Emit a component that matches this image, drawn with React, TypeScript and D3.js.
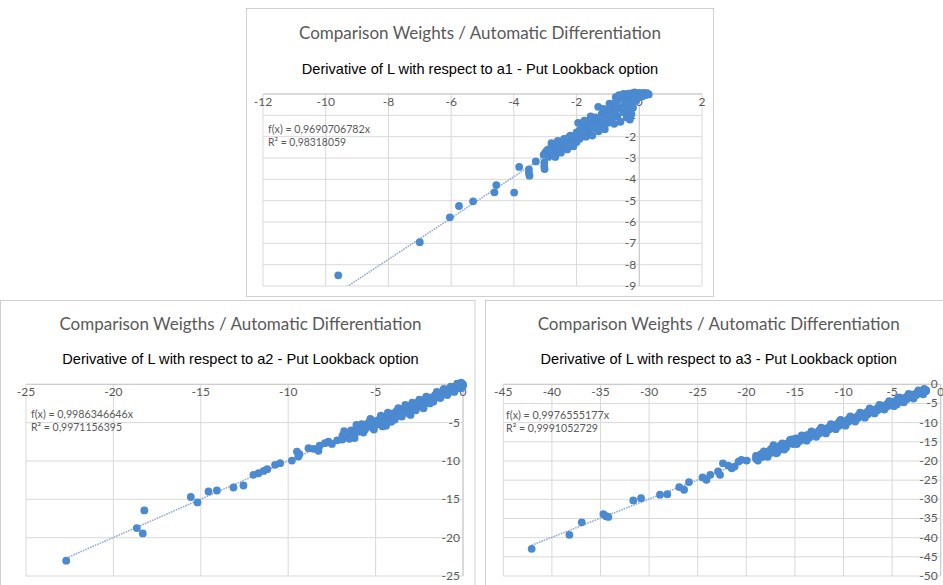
import React from "react";
import * as d3 from "d3";

// ---------- DATA ----------
const TITLE_A1 = "Comparison Weights / Automatic Differentiation";
const TITLE_A2 = "Comparison Weigths / Automatic Differentiation";
const TITLE_A3 = "Comparison Weights / Automatic Differentiation";
const SUB_A1 = "Derivative of L with respect to a1 - Put Lookback option";
const SUB_A2 = "Derivative of L with respect to a2 - Put Lookback option";
const SUB_A3 = "Derivative of L with respect to a3 - Put Lookback option";

const EQ_A1 = ["f(x) = 0,9690706782x", "R² = 0,98318059"];
const EQ_A2 = ["f(x) = 0,9986346646x", "R² = 0,9971156395"];
const EQ_A3 = ["f(x) = 0,9976555177x", "R² = 0,9991052729"];

const SLOPE_A1 = 0.9690706782;
const SLOPE_A2 = 0.9986346646;
const SLOPE_A3 = 0.9976555177;

const X_TICKS_A1 = [-12, -10, -8, -6, -4, -2, 0, 2];
const Y_TICKS_A1 = [0, -1, -2, -3, -4, -5, -6, -7, -8, -9];
const X_TICKS_A2 = [-25, -20, -15, -10, -5, 0];
const Y_TICKS_A2 = [0, -5, -10, -15, -20, -25];
const X_TICKS_A3 = [-45, -40, -35, -30, -25, -20, -15, -10, -5, 0];
const Y_TICKS_A3 = [0, -5, -10, -15, -20, -25, -30, -35, -40, -45, -50];

const POINTS_A1: [number, number][] = [
  [-9.6, -8.5], [-7.0, -6.95], [-6.04, -5.78], [-5.75, -5.25], [-5.3, -5.03],
  [-4.62, -4.61], [-4.56, -4.27], [-3.99, -4.62], [-3.83, -3.42],
  [-3.52, -3.53], [-3.52, -3.7], [-3.5, -3.83], [-3.3, -3.16],
  [-3.03, -3.22], [-3.03, -3.4], [-3.02, -3.52],
  [-3.05, -2.85], [-3.0, -2.75], [-2.95, -2.65], [-2.85, -2.72], [-2.75, -2.8], [-2.68, -2.95],
  [-2.9, -2.6], [-2.9, -2.95], [-2.8, -2.3], [-2.8, -2.75], [-2.7, -2.5], [-2.7, -2.9],
  [-2.6, -2.2], [-2.6, -2.6], [-2.5, -2.35], [-2.5, -2.75], [-2.4, -2.1], [-2.4, -2.5],
  [-2.3, -2.25], [-2.3, -2.6], [-2.2, -1.95], [-2.2, -2.4], [-2.1, -2.1], [-2.1, -2.45],
  [-2.0, -1.8], [-2.0, -2.25], [-1.95, -1.35], [-1.9, -1.7], [-1.9, -2.1],
  [-1.8, -1.55], [-1.8, -1.95], [-1.7, -1.45], [-1.7, -2.0], [-1.6, -1.35], [-1.6, -1.8],
  [-1.5, -1.2], [-1.5, -1.95], [-1.4, -1.1], [-1.4, -1.6], [-1.31, -0.6], [-1.3, -1.3],
  [-1.3, -1.75], [-1.2, -0.95], [-1.2, -1.5], [-1.1, -0.85], [-1.1, -1.65],
  [-1.0, -0.7], [-1.0, -1.35], [-0.9, -0.6], [-0.9, -1.2], [-0.8, -0.45], [-0.8, -1.4],
  [-0.7, -0.3], [-0.7, -1.05], [-0.6, -0.15], [-0.6, -1.3], [-0.5, -0.25], [-0.5, -0.85],
  [-0.4, -0.05], [-0.4, -1.1], [-0.3, -0.2], [-0.3, -0.75], [-0.3, -1.2],
  [-0.2, 0.05], [-0.2, -0.45], [-0.1, -0.1], [-0.1, -0.3], [0.0, 0.05], [0.0, -0.15],
  [0.1, 0.02], [0.2, -0.05], [0.3, -0.02],
  [-2.45, -2.3], [-2.05, -2.0], [-1.65, -1.6], [-1.25, -1.2], [-0.85, -0.9],
  [-0.45, -0.55], [-0.05, 0.0], [-2.85, -2.6], [-1.45, -1.4], [-1.05, -1.0],
  [-0.65, -0.65], [-0.25, -0.15], [0.05, 0.03], [-0.55, -0.05], [-0.35, 0.02], [-0.15, 0.08],
  [-2.65, -2.4], [-2.55, -2.55], [-2.35, -2.45], [-2.25, -2.05], [-2.15, -2.3], [-1.95, -1.95],
  [-1.85, -1.8], [-1.75, -1.75], [-1.55, -1.5], [-1.35, -1.45], [-1.15, -1.3], [-0.95, -0.95],
  [-0.75, -0.8], [-0.55, -0.6], [-0.35, -0.45], [-0.15, -0.2], [0.15, 0.05], [0.25, 0.04],
  [-1.75, -1.25], [-1.55, -1.05], [-1.15, -0.7], [-0.95, -0.45], [-0.75, -0.15], [-0.45, -0.3],
  [-0.25, -0.95], [-0.35, -1.05], [-0.2, -0.65], [-0.5, 0.0], [-0.65, -0.05], [0.1, -0.1],
];

const POINTS_A2: [number, number][] = [
  [-22.7, -23.0], [-18.66, -18.75], [-18.32, -19.45], [-18.23, -16.45],
  [-15.57, -14.7], [-15.19, -15.4], [-14.56, -13.98], [-14.08, -13.85],
  [-13.13, -13.46], [-12.56, -13.2], [-11.99, -11.8], [-11.7, -11.6],
  [-11.4, -11.3], [-11.2, -11.07], [-10.75, -10.5], [-10.46, -10.29],
  [-9.79, -9.95], [-9.5, -8.77], [-9.42, -9.42], [-9.36, -9.11],
  [-8.84, -8.33], [-8.55, -8.42], [-8.27, -8.68], [-8.2, -8.0],
  [-7.9, -7.68], [-7.7, -7.47], [-7.5, -7.77],
  [-7.2, -7.3], [-6.9, -6.7], [-6.9, -7.2], [-6.6, -6.9], [-6.4, -6.0], [-6.4, -6.5],
  [-6.2, -7.0], [-6.2, -6.3], [-6.0, -5.6], [-6.0, -6.2], [-5.8, -5.7], [-5.8, -5.2],
  [-5.6, -5.9], [-5.6, -5.3], [-5.4, -5.0], [-5.4, -5.5], [-5.2, -5.6], [-5.2, -4.9],
  [-5.0, -4.8], [-5.0, -5.3], [-4.8, -5.2], [-4.8, -4.6], [-4.6, -5.5], [-4.6, -4.5],
  [-4.4, -4.2], [-4.4, -5.4], [-4.2, -4.6], [-4.2, -4.0], [-4.0, -3.8], [-4.0, -4.3],
  [-3.9, -4.6], [-3.8, -3.5], [-3.8, -4.1], [-3.6, -3.9], [-3.6, -3.3], [-3.4, -3.2],
  [-3.4, -3.7], [-3.2, -3.5], [-3.2, -3.0], [-3.0, -4.0], [-3.0, -2.8], [-3.0, -3.2],
  [-2.8, -2.6], [-2.8, -3.1], [-2.6, -2.9], [-2.6, -2.4], [-2.4, -2.3], [-2.4, -2.7],
  [-2.26, -3.13], [-2.2, -2.0], [-2.2, -2.5], [-2.0, -2.3], [-2.0, -1.8], [-1.8, -1.7],
  [-1.8, -2.0], [-1.7, -2.26], [-1.6, -1.4], [-1.6, -1.8], [-1.4, -1.6], [-1.4, -1.2],
  [-1.2, -1.0], [-1.2, -1.4], [-1.0, -1.2], [-1.0, -0.8], [-0.8, -0.6], [-0.8, -1.0],
  [-0.6, -0.8], [-0.6, -0.4], [-0.4, -0.3], [-0.4, -0.6], [-0.2, -0.1], [-0.2, -0.4],
  [0.0, 0.0], [0.0, -0.2], [-0.1, 0.2],
  [-6.8, -6.1], [-6.5, -7.1], [-6.1, -5.3], [-5.7, -6.3], [-5.3, -4.5], [-5.1, -5.9],
  [-4.7, -4.1], [-4.5, -5.0], [-4.3, -3.7], [-4.1, -4.9], [-3.7, -3.1], [-3.5, -4.2],
  [-3.3, -2.7], [-3.1, -3.8], [-2.9, -2.4], [-2.7, -3.4], [-2.5, -2.0], [-2.3, -2.9],
  [-2.1, -1.6], [-1.9, -2.5], [-1.5, -1.0], [-1.3, -1.8], [-1.1, -0.6], [-0.9, -1.4],
  [-0.7, -0.3], [-0.5, -1.0], [-0.3, 0.1], [-0.1, -0.5],
];

const POINTS_A3: [number, number][] = [
  [-42.08, -42.9], [-38.2, -39.25], [-36.93, -36.0], [-34.71, -33.85], [-34.43, -34.4],
  [-34.2, -34.6], [-31.63, -30.3], [-30.83, -29.7], [-28.88, -28.8], [-28.13, -28.65],
  [-26.9, -26.8], [-26.4, -27.5], [-25.9, -25.5], [-24.5, -24.3], [-24.1, -24.9],
  [-23.7, -23.6], [-22.9, -22.75], [-22.7, -23.6], [-22.4, -20.6], [-21.85, -21.2],
  [-21.5, -21.9], [-21.2, -21.45], [-20.8, -20.15], [-20.5, -19.7], [-19.96, -19.9],
  [-19.0, -18.7], [-19.0, -19.4], [-18.5, -18.2], [-18.5, -19.0], [-18.25, -18.85],
  [-18.0, -17.6], [-18.0, -18.6], [-17.5, -17.0], [-17.5, -17.9], [-17.2, -15.9],
  [-16.9, -18.0], [-17.0, -16.5], [-16.5, -16.0], [-16.5, -16.9], [-16.1, -17.0],
  [-15.7, -15.3], [-15.5, -14.5], [-15.2, -15.6], [-14.9, -14.1], [-14.5, -14.3],
  [-14.5, -14.8], [-14.0, -13.6], [-14.0, -14.3], [-13.7, -13.2], [-13.5, -13.9],
  [-13.0, -12.6], [-13.0, -13.3], [-12.5, -12.0], [-12.5, -12.8], [-12.0, -11.6],
  [-12.0, -12.3], [-11.5, -11.2], [-11.5, -11.8], [-11.0, -10.6], [-11.0, -11.4],
  [-10.5, -10.0], [-10.5, -10.9], [-10.4, -9.7], [-10.0, -9.6], [-10.0, -10.4],
  [-9.8, -10.1], [-9.5, -9.1], [-9.5, -9.8], [-9.0, -8.7], [-9.0, -9.3],
  [-8.5, -8.2], [-8.5, -8.8], [-8.1, -7.9], [-8.0, -7.6], [-8.0, -8.3],
  [-7.5, -7.1], [-7.5, -7.8], [-7.0, -6.7], [-7.0, -7.3], [-6.5, -6.2], [-6.5, -6.8],
  [-6.0, -5.6], [-6.0, -6.3], [-5.5, -5.1], [-5.5, -5.8], [-5.0, -4.6], [-5.0, -5.4],
  [-4.5, -4.0], [-4.5, -5.2], [-4.0, -3.6], [-4.0, -4.5], [-3.5, -3.2], [-3.5, -3.9],
  [-3.0, -2.7], [-3.0, -3.3], [-2.5, -2.3], [-2.5, -2.8], [-2.0, -1.9], [-2.0, -2.3],
  [-1.5, -1.75], [-1.5, -1.5],
  [-18.8, -19.9], [-17.8, -18.9], [-16.8, -17.7], [-15.9, -16.5], [-14.8, -15.6],
  [-13.8, -14.7], [-12.8, -13.7], [-11.8, -12.8], [-10.8, -11.7], [-9.8, -10.8],
  [-8.8, -9.7], [-7.8, -8.7], [-6.8, -7.6], [-5.8, -6.6], [-4.8, -5.7], [-3.8, -4.7],
  [-2.8, -3.7], [-1.8, -2.6],
  [-18.2, -17.5], [-17.3, -16.6], [-16.3, -15.4], [-15.3, -14.4], [-14.3, -13.3],
  [-13.3, -12.3], [-12.3, -11.3], [-11.3, -10.4], [-10.3, -9.3], [-9.3, -8.4],
  [-8.3, -7.4], [-7.3, -6.3], [-6.3, -5.4], [-5.3, -4.4], [-4.3, -3.4], [-3.3, -2.5],
  [-2.3, -1.6], [-1.7, -1.2],
];

// ---------- COMPONENTS ----------
const DOT = "#4b89d0";
const GRID = "#d9d9d9";
const LABEL = "#595959";

type PanelProps = {
  id: string;
  box: [number, number, number, number];
  title: string;
  sub: string;
  titleX: number;
  titleY: number;
  subY: number;
  plot: [number, number, number, number];
  xDomain: [number, number];
  yDomain: [number, number];
  xTicks: number[];
  yTicks: number[];
  points: [number, number][];
  slope: number;
  eq: string[];
  eqX: number;
  eqY: number;
  eqW: [number, number];
};

function Panel(p: PanelProps) {
  const x = d3.scaleLinear().domain(p.xDomain).range([p.plot[0], p.plot[1]]);
  const y = d3.scaleLinear().domain(p.yDomain).range([p.plot[3], p.plot[2]]);
  const xs = p.points.map((d) => d[0]);
  const xmin = d3.min(xs) as number;
  const xmax = d3.max(xs) as number;
  const line = d3
    .line<[number, number]>()
    .x((d) => x(d[0]))
    .y((d) => y(d[1]));
  const trend = line([
    [xmin, p.slope * xmin],
    [xmax, p.slope * xmax],
  ]) as string;
  const ax = x(0);
  const ay = y(0);
  return (
    <g>
      <rect x={p.box[0]} y={p.box[1]} width={p.box[2]} height={p.box[3]} fill="#fff" stroke="#d0d0d0" strokeWidth={1} />
      <text x={p.titleX} y={p.titleY} textAnchor="middle" fontFamily="Lato, 'Open Sans', sans-serif" fontSize={17} fill={LABEL}>
        {p.title}
      </text>
      <text x={p.titleX} y={p.subY} textAnchor="middle" fontFamily="'Liberation Sans', Arial, sans-serif" fontSize={14.6} fill="#000">
        {p.sub}
      </text>
      <clipPath id={"clip" + p.id}>
        <rect x={p.plot[0]} y={p.plot[2]} width={p.plot[1] - p.plot[0]} height={p.plot[3] - p.plot[2]} />
      </clipPath>
      {p.xTicks.map((t) => (
        <line key={"vx" + t} x1={x(t)} x2={x(t)} y1={p.plot[2]} y2={p.plot[3]} stroke={GRID} strokeWidth={1} />
      ))}
      {p.yTicks.map((t) => (
        <line key={"hy" + t} x1={p.plot[0]} x2={p.plot[1]} y1={y(t)} y2={y(t)} stroke={GRID} strokeWidth={1} />
      ))}
      <line x1={p.plot[0]} x2={p.plot[1]} y1={ay} y2={ay} stroke="#c8c8c8" strokeWidth={1} />
      <line x1={ax} x2={ax} y1={p.plot[2]} y2={p.plot[3]} stroke="#c8c8c8" strokeWidth={1} />
      {p.xTicks.map((t) => (
        <text key={"tx" + t} x={x(t)} y={ay + 12} textAnchor="middle" fontFamily="Lato, sans-serif" fontSize={12} fill={LABEL}>
          {String(t)}
        </text>
      ))}
      {p.yTicks.map((t) => (
        <text key={"ty" + t} x={ax - 3} y={y(t) + 4} textAnchor="end" fontFamily="Lato, sans-serif" fontSize={12} fill={LABEL}>
          {String(t)}
        </text>
      ))}
      <text x={p.eqX} y={p.eqY} textLength={p.eqW[0]} lengthAdjust="spacingAndGlyphs" fontFamily="Lato, sans-serif" fontSize={10.5} fill={LABEL}>
        {p.eq[0]}
      </text>
      <text x={p.eqX} y={p.eqY + 12.6} textLength={p.eqW[1]} lengthAdjust="spacingAndGlyphs" fontFamily="Lato, sans-serif" fontSize={10.5} fill={LABEL}>
        {p.eq[1]}
      </text>
      <path d={trend} clipPath={`url(#clip${p.id})`} fill="none" stroke="#93acd6" strokeWidth={1.6} strokeDasharray="1.6,1" />
      {p.points.map((d, i) => (
        <circle key={i} cx={x(d[0])} cy={y(d[1])} r={3.9} fill={DOT} />
      ))}
    </g>
  );
}

export default function App() {
  return (
    <svg width={943} height={585} style={{ position: "absolute", left: 0, top: 0, background: "#fff" }}>
      <rect x={0} y={0} width={943} height={585} fill="#fff" />
      <Panel
        id="a1"
        box={[246.5, 8.5, 467, 288]}
        title={TITLE_A1}
        sub={SUB_A1}
        titleX={480}
        titleY={39}
        subY={74}
        plot={[263, 702, 94, 286]}
        xDomain={[-12, 2]}
        yDomain={[-9, 0]}
        xTicks={X_TICKS_A1}
        yTicks={Y_TICKS_A1}
        points={POINTS_A1}
        slope={SLOPE_A1}
        eq={EQ_A1}
        eqX={268}
        eqY={133}
        eqW={[102, 78]}
      />
      <Panel
        id="a2"
        box={[0.5, 300.5, 474.5, 290]}
        title={TITLE_A2}
        sub={SUB_A2}
        titleX={240.5}
        titleY={330}
        subY={364}
        plot={[26, 463, 384.3, 576]}
        xDomain={[-25, 0]}
        yDomain={[-25, 0]}
        xTicks={X_TICKS_A2}
        yTicks={Y_TICKS_A2}
        points={POINTS_A2}
        slope={SLOPE_A2}
        eq={EQ_A2}
        eqX={31}
        eqY={418}
        eqW={[102, 91]}
      />
      <Panel
        id="a3"
        box={[485.5, 300.5, 470, 290]}
        title={TITLE_A3}
        sub={SUB_A3}
        titleX={718.7}
        titleY={330}
        subY={364}
        plot={[503.3, 940.7, 384.3, 576]}
        xDomain={[-45, 0]}
        yDomain={[-50, 0]}
        xTicks={X_TICKS_A3}
        yTicks={Y_TICKS_A3}
        points={POINTS_A3}
        slope={SLOPE_A3}
        eq={EQ_A3}
        eqX={506}
        eqY={419}
        eqW={[103, 92]}
      />
    </svg>
  );
}
